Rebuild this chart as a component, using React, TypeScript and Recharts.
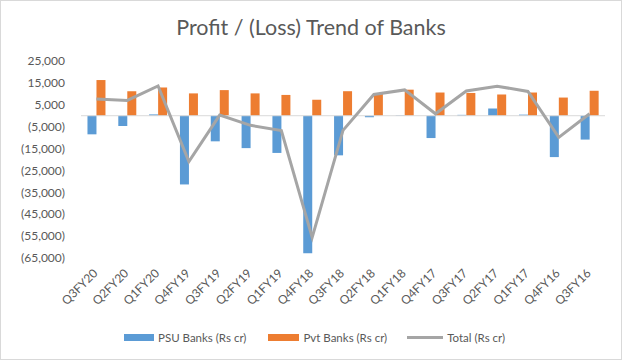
import { ComposedChart, Bar, Line, XAxis, YAxis, ReferenceLine, Legend } from 'recharts'

const quarters = ['Q3FY20', 'Q2FY20', 'Q1FY20', 'Q4FY19', 'Q3FY19', 'Q2FY19', 'Q1FY19', 'Q4FY18', 'Q3FY18', 'Q2FY18', 'Q1FY18', 'Q4FY17', 'Q3FY17', 'Q2FY17', 'Q1FY17', 'Q4FY16', 'Q3FY16']
const psuBanks = [-8500, -4700, 600, -31400, -11700, -14800, -17000, -62800, -18100, -700, 200, -10200, 400, 3300, 500, -18900, -10900]
const pvtBanks = [16300, 11200, 12900, 10200, 11700, 10200, 9500, 7300, 11200, 10300, 11900, 10600, 10400, 9700, 10600, 8300, 11400]
const totals = [7600, 7000, 13600, -20900, 300, -4400, -6800, -55600, -6700, 9700, 11800, 900, 11300, 13500, 11100, -9900, 900]
const yTicks = [-65000, -55000, -45000, -35000, -25000, -15000, -5000, 5000, 15000, 25000]

const data = quarters.map((q, i) => ({ q, psu: psuBanks[i], pvt: pvtBanks[i], total: totals[i] }))

const FONT = 'Lato, "Liberation Sans", sans-serif'
const TEXT = '#595959'

const fmt = (v: number) => {
  const s = Math.abs(v).toLocaleString('en-US')
  return v < 0 ? `(${s})` : s
}

// rotated category labels, Excel style
function QuarterTick({ x, y, payload }: any) {
  return (
    <text x={x + 2} y={y + 8} transform={`rotate(-45, ${x + 2}, ${y + 8})`} textAnchor="end" fontSize={12} fill={TEXT} fontFamily={FONT}>
      {payload.value}
    </text>
  )
}

function LegendBox() {
  const item = (label: string, swatch: any, gap: number) => (
    <span style={{ display: 'inline-flex', alignItems: 'center', marginRight: gap }}>
      {swatch}
      <span style={{ marginLeft: 4 }}>{label}</span>
    </span>
  )
  return (
    <div style={{ display: 'flex', paddingLeft: 123, fontSize: 11.5, color: TEXT, fontFamily: FONT, height: 16, alignItems: 'center' }}>
      {item('PSU Banks (Rs cr)', <span style={{ width: 30, height: 7, background: '#5B9BD5', display: 'inline-block' }} />, 22)}
      {item('Pvt Banks (Rs cr)', <span style={{ width: 31, height: 7, background: '#ED7D31', display: 'inline-block' }} />, 20)}
      {item('Total (Rs cr)', <span style={{ width: 36, height: 3, background: '#A5A5A5', display: 'inline-block' }} />, 0)}
    </div>
  )
}

export default function App() {
  return (
    <div style={{ position: 'absolute', left: 0, top: 0, width: 620, height: 358, border: '1px solid #d9d9d9', background: '#fff' }}>
      <div style={{ position: 'absolute', top: 13, width: 620, textAlign: 'center', fontFamily: FONT, fontSize: 21.5, color: TEXT }}>
        Profit / (Loss) Trend of Banks
      </div>
      <ComposedChart width={620} height={358} data={data} margin={{ top: 60, right: 16, left: 0, bottom: 25 }} barGap={0} barCategoryGap="21%">
        <XAxis dataKey="q" axisLine={false} tickLine={false} interval={0} tick={<QuarterTick />} height={60} />
        <YAxis
          domain={[-65000, 25000]}
          ticks={yTicks}
          interval={0}
          tickFormatter={fmt}
          axisLine={false}
          tickLine={false}
          width={80}
          tickMargin={10}
          tick={{ fontSize: 12, fill: TEXT, fontFamily: FONT }}
        />
        <ReferenceLine y={0} stroke="#d9d9d9" />
        <Bar dataKey="psu" fill="#5B9BD5" isAnimationActive={false} />
        <Bar dataKey="pvt" fill="#ED7D31" isAnimationActive={false} />
        <Line type="linear" dataKey="total" stroke="#A5A5A5" strokeWidth={3} dot={false} isAnimationActive={false} />
        <Legend content={<LegendBox />} wrapperStyle={{ position: 'absolute', top: 328, left: 0, width: 620, bottom: 'auto' }} />
      </ComposedChart>
    </div>
  )
}
